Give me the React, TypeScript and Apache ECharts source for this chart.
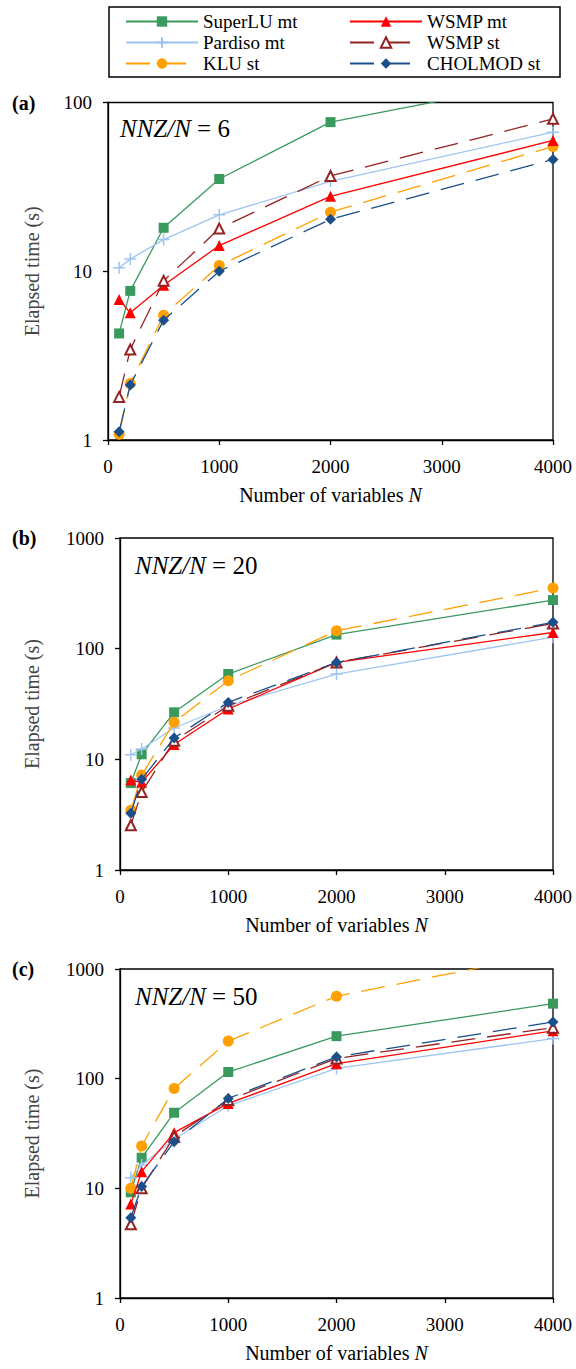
import React, { useEffect, useRef } from "react";
import * as echarts from "echarts";

// Number of variables N
const N = [100, 200, 500, 1000, 2000, 4000];

// Panel (a): NNZ/N = 6
const superluA = [4.28, 7.65, 18.1, 35.2, 76.5, 138];
const pardisoA = [10.5, 11.8, 15.4, 21.6, 34.1, 66.7];
const kluA = [1.08, 2.16, 5.49, 10.8, 22.4, 54.9];
const wsmpMtA = [6.8, 5.67, 8.27, 14.2, 27.8, 59.6];
const wsmpStA = [1.8, 3.44, 8.77, 17.9, 36.7, 80.0];
const cholmodA = [1.12, 2.12, 5.13, 10.0, 20.3, 46.0];

// Panel (b): NNZ/N = 20
const superluB = [6.1, 11.1, 26.6, 59.0, 134, 275];
const pardisoB = [11.0, 12.4, 19.2, 30.5, 59.0, 127];
const kluB = [3.46, 7.2, 21.6, 51.4, 145, 353];
const wsmpMtB = [6.5, 6.2, 13.6, 28.5, 75.3, 140];
const wsmpStB = [2.54, 5.06, 14.7, 30.5, 75, 169];
const cholmodB = [3.25, 6.6, 15.6, 32.7, 75, 173];

// Panel (c): NNZ/N = 50
const superluC = [9.2, 19.0, 48.9, 115, 244, 483];
const pardisoC = [12.5, 16.3, 28.0, 56.6, 124, 232];
const kluC = [10.0, 24.3, 81.5, 220, 564, 1400];
const wsmpMtC = [7.2, 14.2, 32.2, 59.5, 137, 273];
const wsmpStC = [4.7, 10.0, 29.6, 63.8, 153, 292];
const cholmodC = [5.4, 10.4, 26.6, 66.0, 158, 329];

const seriesNames = ["SuperLU mt", "Pardiso mt", "KLU st", "WSMP mt", "WSMP st", "CHOLMOD st"];
const panelData = [
  [superluA, pardisoA, kluA, wsmpMtA, wsmpStA, cholmodA],
  [superluB, pardisoB, kluB, wsmpMtB, wsmpStB, cholmodB],
  [superluC, pardisoC, kluC, wsmpMtC, wsmpStC, cholmodC],
];
const yMaxes = [100, 1000, 1000];
const ratios = [6, 20, 50];
const panelLabels = ["(a)", "(b)", "(c)"];
const xTitle = "Number of variables ";
const yTitle = "Elapsed time (s)";

const FONT = "Liberation Serif";
const PLUS = "path://M5,0L5,10M0,5L10,5";

const styles = [
  { color: "#3a9a5e", symbol: "rect", size: 10, dashed: false, item: {} },
  { color: "#9ec5f2", symbol: PLUS, size: 12, dashed: false, item: { borderColor: "#9ec5f2", borderWidth: 1.5 } },
  { color: "#ffa000", symbol: "circle", size: 11, dashed: true, item: {} },
  { color: "#ff0000", symbol: "triangle", size: 11, dashed: false, item: {} },
  { color: "#952222", symbol: "emptyTriangle", size: 10, dashed: true, item: { borderWidth: 1.8 } },
  { color: "#1a4f8a", symbol: "diamond", size: 11, dashed: true, item: {} },
];

const grids = [
  { left: 108, top: 102.5, width: 445, height: 337.5 },
  { left: 120, top: 538, width: 433, height: 332 },
  { left: 120, top: 969, width: 433, height: 329 },
];

export default function App() {
  const ref = useRef<HTMLDivElement>(null);
  useEffect(() => {
    if (!ref.current) return;
    const chart = echarts.init(ref.current, undefined, { renderer: "svg" });
    const axisLine = { show: true, lineStyle: { color: "#000", width: 1.3 } };
    const axisTick = { show: true, inside: false, length: 5, lineStyle: { color: "#000", width: 1.3 } };
    const fmt = (v: number) => "{s|" + String(v) + "}";
    const tickRich = { s: { fontFamily: FONT, fontSize: 19, fontWeight: "normal", color: "#000" } };

    const xAxis = grids.map((_, i) => ({
      gridIndex: i,
      type: "value",
      min: 0,
      max: 4000,
      interval: 1000,
      axisLine,
      axisTick,
      splitLine: { show: false },
      axisLabel: { color: "#000", fontFamily: FONT, fontSize: 19, margin: 17, formatter: fmt, rich: tickRich },
      name: "{s|" + xTitle + "}{i|N}",
      nameLocation: "middle",
      nameGap: 45,
      nameTextStyle: {
        color: "#000",
        fontFamily: FONT,
        fontSize: 20,
        rich: {
          s: { fontFamily: FONT, fontSize: 20, fontWeight: "normal", color: "#000" },
          i: { fontStyle: "italic", fontFamily: FONT, fontSize: 20, color: "#000" },
        },
      },
    }));
    const yAxis = grids.map((g, i) => ({
      gridIndex: i,
      type: "log",
      logBase: 10,
      min: 1,
      max: yMaxes[i],
      axisLine,
      axisTick,
      minorTick: { show: false },
      splitLine: { show: false },
      axisLabel: { color: "#000", fontFamily: FONT, fontSize: 19, margin: 16, formatter: fmt, rich: tickRich },
      name: "{s|" + yTitle + "}",
      nameLocation: "middle",
      nameRotate: 90,
      nameGap: g.left - 42,
      nameTextStyle: {
        color: "#444",
        fontFamily: FONT,
        fontSize: 20,
        rich: { s: { fontFamily: FONT, fontSize: 20, fontWeight: "normal", color: "#444" } },
      },
    }));

    const series: any[] = [];
    panelData.forEach((panel, p) => {
      panel.forEach((vals, k) => {
        const st = styles[k];
        series.push({
          name: seriesNames[k],
          type: "line",
          xAxisIndex: p,
          yAxisIndex: p,
          data: N.map((n, j) => [n, vals[j]]),
          color: st.color,
          symbol: st.symbol,
          symbolSize: st.size,
          showAllSymbol: true,
          clip: true,
          lineStyle: { color: st.color, width: 1.3, type: st.dashed ? [24, 12] : "solid" },
          itemStyle: { color: st.color, ...st.item },
          emphasis: { disabled: true },
          z: 2 + k,
        });
      });
    });

    const graphics: any[] = [
      {
        type: "rect",
        shape: { x: 109, y: 7, width: 451, height: 70 },
        style: { fill: "none", stroke: "#000", lineWidth: 1.5 },
      },
    ];
    grids.forEach((g, i) => {
      graphics.push({
        type: "text",
        x: 12,
        y: g.top,
        style: {
          text: "{b|" + panelLabels[i] + "}",
          fontFamily: FONT,
          fontSize: 20,
          fontWeight: "bold",
          fill: "#000",
          verticalAlign: "middle",
          rich: { b: { fontFamily: FONT, fontSize: 20, fontWeight: "bold", fill: "#000" } },
        },
      });
      graphics.push({
        type: "text",
        x: g.left + (i === 0 ? 12 : 15),
        y: g.top + (i === 0 ? 26 : 27),
        style: {
          text: "{i|NNZ/N}{s| = " + ratios[i] + "}",
          fontFamily: FONT,
          fontSize: 25,
          fill: "#000",
          verticalAlign: "middle",
          rich: {
            i: { fontStyle: "italic", fontFamily: FONT, fontSize: 25, fill: "#000" },
            s: { fontStyle: "normal", fontWeight: "normal", fontFamily: FONT, fontSize: 25, fill: "#000" },
          },
        },
      });
    });

    const legendCommon = {
      orient: "vertical",
      top: 12,
      itemWidth: 72,
      itemHeight: 13,
      itemGap: 2,
      padding: 0,
      selectedMode: false,
      textStyle: { fontFamily: FONT, fontSize: 19, color: "#000" },
    };

    chart.setOption({
      animation: false,
      backgroundColor: "#fff",
      textStyle: { fontFamily: FONT },
      grid: grids.map((g) => ({ ...g, show: true, borderColor: "#000", borderWidth: 1.3, backgroundColor: "transparent" })),
      xAxis,
      yAxis,
      legend: [
        { ...legendCommon, left: 125, data: seriesNames.slice(0, 3) },
        { ...legendCommon, left: 349, data: seriesNames.slice(3) },
      ],
      graphic: graphics,
      series,
    });
    return () => chart.dispose();
  }, []);
  return (
    <div
      ref={ref}
      style={{ position: "absolute", left: 0, top: 0, width: 576, height: 1369 }}
    />
  );
}
